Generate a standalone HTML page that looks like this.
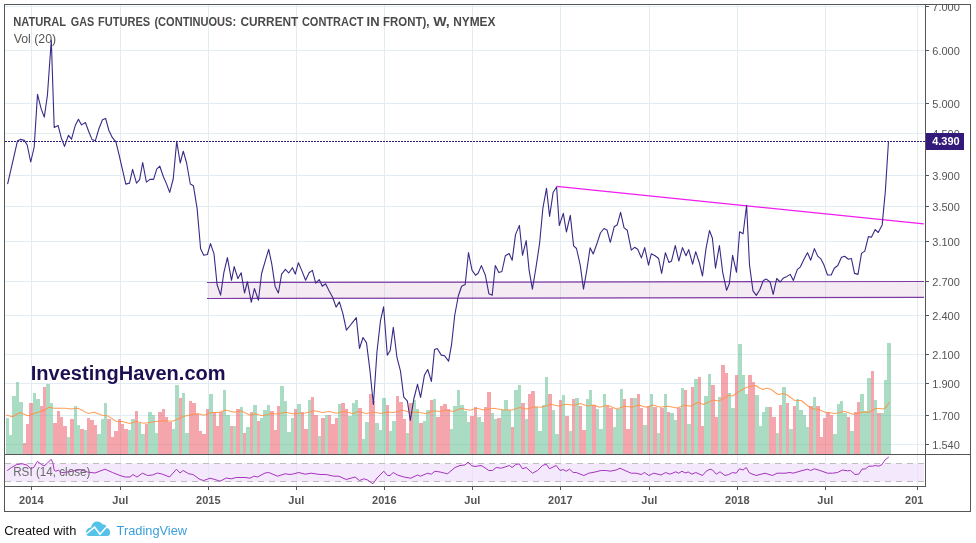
<!DOCTYPE html>
<html><head><meta charset="utf-8"><title>Natural Gas Futures</title>
<style>
html,body{margin:0;padding:0;background:#fff;}
body{width:976px;height:543px;overflow:hidden;font-family:"Liberation Sans",sans-serif;}
svg{display:block;}
</style></head><body>
<svg width="976" height="543" viewBox="0 0 976 543" font-family="Liberation Sans, sans-serif">
<rect x="0" y="0" width="976" height="543" fill="#fff"/>

<g shape-rendering="crispEdges" stroke="#e1ecf3" stroke-width="1">
<line x1="31.5" y1="5" x2="31.5" y2="454"/>
<line x1="31.5" y1="455" x2="31.5" y2="486" stroke="#e8eef8"/>
<line x1="120.5" y1="5" x2="120.5" y2="454"/>
<line x1="120.5" y1="455" x2="120.5" y2="486" stroke="#e8eef8"/>
<line x1="208.5" y1="5" x2="208.5" y2="454"/>
<line x1="208.5" y1="455" x2="208.5" y2="486" stroke="#e8eef8"/>
<line x1="296.5" y1="5" x2="296.5" y2="454"/>
<line x1="296.5" y1="455" x2="296.5" y2="486" stroke="#e8eef8"/>
<line x1="384.5" y1="5" x2="384.5" y2="454"/>
<line x1="384.5" y1="455" x2="384.5" y2="486" stroke="#e8eef8"/>
<line x1="472.5" y1="5" x2="472.5" y2="454"/>
<line x1="472.5" y1="455" x2="472.5" y2="486" stroke="#e8eef8"/>
<line x1="560.5" y1="5" x2="560.5" y2="454"/>
<line x1="560.5" y1="455" x2="560.5" y2="486" stroke="#e8eef8"/>
<line x1="649.5" y1="5" x2="649.5" y2="454"/>
<line x1="649.5" y1="455" x2="649.5" y2="486" stroke="#e8eef8"/>
<line x1="737.5" y1="5" x2="737.5" y2="454"/>
<line x1="737.5" y1="455" x2="737.5" y2="486" stroke="#e8eef8"/>
<line x1="825.5" y1="5" x2="825.5" y2="454"/>
<line x1="825.5" y1="455" x2="825.5" y2="486" stroke="#e8eef8"/>
<line x1="917.5" y1="5" x2="917.5" y2="454"/>
<line x1="917.5" y1="455" x2="917.5" y2="486" stroke="#e8eef8"/>
<line x1="5" y1="6.5" x2="924" y2="6.5"/>
<line x1="5" y1="50.5" x2="924" y2="50.5"/>
<line x1="5" y1="103.5" x2="924" y2="103.5"/>
<line x1="5" y1="133.5" x2="924" y2="133.5"/>
<line x1="5" y1="175.5" x2="924" y2="175.5"/>
<line x1="5" y1="206.5" x2="924" y2="206.5"/>
<line x1="5" y1="241.5" x2="924" y2="241.5"/>
<line x1="5" y1="281.5" x2="924" y2="281.5"/>
<line x1="5" y1="315.5" x2="924" y2="315.5"/>
<line x1="5" y1="354.5" x2="924" y2="354.5"/>
<line x1="5" y1="383.5" x2="924" y2="383.5"/>
<line x1="5" y1="415.5" x2="924" y2="415.5"/>
<line x1="5" y1="444.5" x2="924" y2="444.5"/>
</g>
<polygon points="207.5,282.5 924,281.5 924,297.4 207.5,298.5" fill="#c99bc4" fill-opacity="0.2"/>
<g stroke="#7d3aa3" stroke-width="1.2"><line x1="207" y1="282.5" x2="924" y2="281.5"/><line x1="207" y1="298.5" x2="924" y2="297.4"/></g>
<g shape-rendering="crispEdges">
<rect x="6" y="418" width="3" height="36" fill="#53b987" fill-opacity="0.5"/>
<rect x="9" y="435" width="3" height="19" fill="#53b987" fill-opacity="0.5"/>
<rect x="12" y="396" width="4" height="58" fill="#53b987" fill-opacity="0.5"/>
<rect x="16" y="382" width="3" height="72" fill="#53b987" fill-opacity="0.5"/>
<rect x="19" y="402" width="4" height="52" fill="#53b987" fill-opacity="0.5"/>
<rect x="23" y="443" width="3" height="11" fill="#eb4d5c" fill-opacity="0.5"/>
<rect x="26" y="424" width="3" height="30" fill="#eb4d5c" fill-opacity="0.5"/>
<rect x="29" y="403" width="4" height="51" fill="#eb4d5c" fill-opacity="0.5"/>
<rect x="33" y="393" width="3" height="61" fill="#53b987" fill-opacity="0.5"/>
<rect x="36" y="399" width="4" height="55" fill="#53b987" fill-opacity="0.5"/>
<rect x="40" y="406" width="3" height="48" fill="#eb4d5c" fill-opacity="0.5"/>
<rect x="43" y="387" width="3" height="67" fill="#eb4d5c" fill-opacity="0.5"/>
<rect x="46" y="384" width="4" height="70" fill="#53b987" fill-opacity="0.5"/>
<rect x="50" y="403" width="3" height="51" fill="#53b987" fill-opacity="0.5"/>
<rect x="53" y="423" width="4" height="31" fill="#eb4d5c" fill-opacity="0.5"/>
<rect x="57" y="411" width="3" height="43" fill="#eb4d5c" fill-opacity="0.5"/>
<rect x="60" y="417" width="3" height="37" fill="#eb4d5c" fill-opacity="0.5"/>
<rect x="63" y="426" width="4" height="28" fill="#eb4d5c" fill-opacity="0.5"/>
<rect x="67" y="437" width="3" height="17" fill="#53b987" fill-opacity="0.5"/>
<rect x="70" y="419" width="4" height="35" fill="#eb4d5c" fill-opacity="0.5"/>
<rect x="74" y="406" width="3" height="48" fill="#53b987" fill-opacity="0.5"/>
<rect x="77" y="425" width="3" height="29" fill="#53b987" fill-opacity="0.5"/>
<rect x="80" y="429" width="4" height="25" fill="#eb4d5c" fill-opacity="0.5"/>
<rect x="84" y="430" width="3" height="24" fill="#53b987" fill-opacity="0.5"/>
<rect x="87" y="418" width="3" height="36" fill="#eb4d5c" fill-opacity="0.5"/>
<rect x="90" y="420" width="4" height="34" fill="#eb4d5c" fill-opacity="0.5"/>
<rect x="94" y="425" width="3" height="29" fill="#eb4d5c" fill-opacity="0.5"/>
<rect x="97" y="434" width="4" height="20" fill="#53b987" fill-opacity="0.5"/>
<rect x="101" y="419" width="3" height="35" fill="#53b987" fill-opacity="0.5"/>
<rect x="104" y="403" width="3" height="51" fill="#53b987" fill-opacity="0.5"/>
<rect x="107" y="419" width="4" height="35" fill="#eb4d5c" fill-opacity="0.5"/>
<rect x="111" y="437" width="3" height="17" fill="#eb4d5c" fill-opacity="0.5"/>
<rect x="114" y="431" width="4" height="23" fill="#eb4d5c" fill-opacity="0.5"/>
<rect x="118" y="419" width="3" height="35" fill="#eb4d5c" fill-opacity="0.5"/>
<rect x="121" y="424" width="3" height="30" fill="#eb4d5c" fill-opacity="0.5"/>
<rect x="124" y="429" width="4" height="25" fill="#eb4d5c" fill-opacity="0.5"/>
<rect x="128" y="430" width="3" height="24" fill="#53b987" fill-opacity="0.5"/>
<rect x="131" y="419" width="4" height="35" fill="#53b987" fill-opacity="0.5"/>
<rect x="135" y="411" width="3" height="43" fill="#eb4d5c" fill-opacity="0.5"/>
<rect x="138" y="423" width="3" height="31" fill="#53b987" fill-opacity="0.5"/>
<rect x="141" y="434" width="4" height="20" fill="#53b987" fill-opacity="0.5"/>
<rect x="145" y="424" width="3" height="30" fill="#eb4d5c" fill-opacity="0.5"/>
<rect x="148" y="412" width="4" height="42" fill="#53b987" fill-opacity="0.5"/>
<rect x="152" y="415" width="3" height="39" fill="#53b987" fill-opacity="0.5"/>
<rect x="155" y="433" width="3" height="21" fill="#53b987" fill-opacity="0.5"/>
<rect x="158" y="412" width="4" height="42" fill="#eb4d5c" fill-opacity="0.5"/>
<rect x="162" y="409" width="3" height="45" fill="#eb4d5c" fill-opacity="0.5"/>
<rect x="165" y="417" width="3" height="37" fill="#eb4d5c" fill-opacity="0.5"/>
<rect x="168" y="422" width="4" height="32" fill="#eb4d5c" fill-opacity="0.5"/>
<rect x="172" y="429" width="3" height="25" fill="#53b987" fill-opacity="0.5"/>
<rect x="175" y="385" width="4" height="69" fill="#53b987" fill-opacity="0.5"/>
<rect x="179" y="398" width="3" height="56" fill="#eb4d5c" fill-opacity="0.5"/>
<rect x="182" y="393" width="3" height="61" fill="#53b987" fill-opacity="0.5"/>
<rect x="185" y="433" width="4" height="21" fill="#53b987" fill-opacity="0.5"/>
<rect x="189" y="401" width="3" height="53" fill="#eb4d5c" fill-opacity="0.5"/>
<rect x="192" y="403" width="4" height="51" fill="#eb4d5c" fill-opacity="0.5"/>
<rect x="196" y="414" width="3" height="40" fill="#eb4d5c" fill-opacity="0.5"/>
<rect x="199" y="431" width="3" height="23" fill="#eb4d5c" fill-opacity="0.5"/>
<rect x="202" y="434" width="4" height="20" fill="#eb4d5c" fill-opacity="0.5"/>
<rect x="206" y="409" width="3" height="45" fill="#eb4d5c" fill-opacity="0.5"/>
<rect x="209" y="394" width="4" height="60" fill="#53b987" fill-opacity="0.5"/>
<rect x="213" y="412" width="3" height="42" fill="#eb4d5c" fill-opacity="0.5"/>
<rect x="216" y="426" width="3" height="28" fill="#eb4d5c" fill-opacity="0.5"/>
<rect x="219" y="412" width="4" height="42" fill="#eb4d5c" fill-opacity="0.5"/>
<rect x="223" y="390" width="3" height="64" fill="#53b987" fill-opacity="0.5"/>
<rect x="226" y="415" width="4" height="39" fill="#53b987" fill-opacity="0.5"/>
<rect x="230" y="426" width="3" height="28" fill="#eb4d5c" fill-opacity="0.5"/>
<rect x="233" y="426" width="3" height="28" fill="#53b987" fill-opacity="0.5"/>
<rect x="236" y="409" width="4" height="45" fill="#eb4d5c" fill-opacity="0.5"/>
<rect x="240" y="407" width="3" height="47" fill="#53b987" fill-opacity="0.5"/>
<rect x="243" y="433" width="3" height="21" fill="#eb4d5c" fill-opacity="0.5"/>
<rect x="246" y="427" width="4" height="27" fill="#53b987" fill-opacity="0.5"/>
<rect x="250" y="412" width="3" height="42" fill="#eb4d5c" fill-opacity="0.5"/>
<rect x="253" y="405" width="4" height="49" fill="#53b987" fill-opacity="0.5"/>
<rect x="257" y="421" width="3" height="33" fill="#eb4d5c" fill-opacity="0.5"/>
<rect x="260" y="418" width="3" height="36" fill="#53b987" fill-opacity="0.5"/>
<rect x="263" y="410" width="4" height="44" fill="#53b987" fill-opacity="0.5"/>
<rect x="267" y="405" width="3" height="49" fill="#53b987" fill-opacity="0.5"/>
<rect x="270" y="411" width="4" height="43" fill="#eb4d5c" fill-opacity="0.5"/>
<rect x="274" y="430" width="3" height="24" fill="#eb4d5c" fill-opacity="0.5"/>
<rect x="277" y="406" width="3" height="48" fill="#eb4d5c" fill-opacity="0.5"/>
<rect x="280" y="386" width="4" height="68" fill="#53b987" fill-opacity="0.5"/>
<rect x="284" y="401" width="3" height="53" fill="#53b987" fill-opacity="0.5"/>
<rect x="287" y="432" width="4" height="22" fill="#53b987" fill-opacity="0.5"/>
<rect x="291" y="418" width="3" height="36" fill="#53b987" fill-opacity="0.5"/>
<rect x="294" y="409" width="3" height="45" fill="#eb4d5c" fill-opacity="0.5"/>
<rect x="297" y="404" width="4" height="50" fill="#53b987" fill-opacity="0.5"/>
<rect x="301" y="412" width="3" height="42" fill="#eb4d5c" fill-opacity="0.5"/>
<rect x="304" y="429" width="4" height="25" fill="#eb4d5c" fill-opacity="0.5"/>
<rect x="308" y="400" width="3" height="54" fill="#53b987" fill-opacity="0.5"/>
<rect x="311" y="397" width="3" height="57" fill="#eb4d5c" fill-opacity="0.5"/>
<rect x="314" y="415" width="4" height="39" fill="#eb4d5c" fill-opacity="0.5"/>
<rect x="318" y="436" width="3" height="18" fill="#53b987" fill-opacity="0.5"/>
<rect x="321" y="418" width="4" height="36" fill="#eb4d5c" fill-opacity="0.5"/>
<rect x="325" y="415" width="3" height="39" fill="#53b987" fill-opacity="0.5"/>
<rect x="328" y="415" width="3" height="39" fill="#eb4d5c" fill-opacity="0.5"/>
<rect x="331" y="424" width="4" height="30" fill="#eb4d5c" fill-opacity="0.5"/>
<rect x="335" y="418" width="3" height="36" fill="#eb4d5c" fill-opacity="0.5"/>
<rect x="338" y="404" width="3" height="50" fill="#53b987" fill-opacity="0.5"/>
<rect x="341" y="403" width="4" height="51" fill="#eb4d5c" fill-opacity="0.5"/>
<rect x="345" y="409" width="3" height="45" fill="#eb4d5c" fill-opacity="0.5"/>
<rect x="348" y="416" width="4" height="38" fill="#53b987" fill-opacity="0.5"/>
<rect x="352" y="403" width="3" height="51" fill="#53b987" fill-opacity="0.5"/>
<rect x="355" y="400" width="3" height="54" fill="#53b987" fill-opacity="0.5"/>
<rect x="358" y="408" width="4" height="46" fill="#eb4d5c" fill-opacity="0.5"/>
<rect x="362" y="439" width="3" height="15" fill="#53b987" fill-opacity="0.5"/>
<rect x="365" y="422" width="4" height="32" fill="#53b987" fill-opacity="0.5"/>
<rect x="369" y="394" width="3" height="60" fill="#eb4d5c" fill-opacity="0.5"/>
<rect x="372" y="401" width="3" height="53" fill="#eb4d5c" fill-opacity="0.5"/>
<rect x="375" y="423" width="4" height="31" fill="#53b987" fill-opacity="0.5"/>
<rect x="379" y="430" width="3" height="24" fill="#53b987" fill-opacity="0.5"/>
<rect x="382" y="398" width="4" height="56" fill="#53b987" fill-opacity="0.5"/>
<rect x="386" y="405" width="3" height="49" fill="#eb4d5c" fill-opacity="0.5"/>
<rect x="389" y="431" width="3" height="23" fill="#53b987" fill-opacity="0.5"/>
<rect x="392" y="421" width="4" height="33" fill="#53b987" fill-opacity="0.5"/>
<rect x="396" y="396" width="3" height="58" fill="#eb4d5c" fill-opacity="0.5"/>
<rect x="399" y="402" width="4" height="52" fill="#eb4d5c" fill-opacity="0.5"/>
<rect x="403" y="419" width="3" height="35" fill="#eb4d5c" fill-opacity="0.5"/>
<rect x="406" y="433" width="3" height="21" fill="#53b987" fill-opacity="0.5"/>
<rect x="409" y="403" width="4" height="51" fill="#eb4d5c" fill-opacity="0.5"/>
<rect x="413" y="400" width="3" height="54" fill="#53b987" fill-opacity="0.5"/>
<rect x="416" y="409" width="3" height="45" fill="#53b987" fill-opacity="0.5"/>
<rect x="419" y="423" width="4" height="31" fill="#eb4d5c" fill-opacity="0.5"/>
<rect x="423" y="421" width="3" height="33" fill="#53b987" fill-opacity="0.5"/>
<rect x="426" y="410" width="4" height="44" fill="#53b987" fill-opacity="0.5"/>
<rect x="430" y="400" width="3" height="54" fill="#eb4d5c" fill-opacity="0.5"/>
<rect x="433" y="399" width="3" height="55" fill="#53b987" fill-opacity="0.5"/>
<rect x="436" y="417" width="4" height="37" fill="#eb4d5c" fill-opacity="0.5"/>
<rect x="440" y="406" width="3" height="48" fill="#eb4d5c" fill-opacity="0.5"/>
<rect x="443" y="404" width="4" height="50" fill="#eb4d5c" fill-opacity="0.5"/>
<rect x="447" y="409" width="3" height="45" fill="#eb4d5c" fill-opacity="0.5"/>
<rect x="450" y="429" width="3" height="25" fill="#53b987" fill-opacity="0.5"/>
<rect x="453" y="406" width="4" height="48" fill="#53b987" fill-opacity="0.5"/>
<rect x="457" y="390" width="3" height="64" fill="#53b987" fill-opacity="0.5"/>
<rect x="460" y="405" width="4" height="49" fill="#53b987" fill-opacity="0.5"/>
<rect x="464" y="411" width="3" height="43" fill="#53b987" fill-opacity="0.5"/>
<rect x="467" y="422" width="3" height="32" fill="#53b987" fill-opacity="0.5"/>
<rect x="470" y="416" width="4" height="38" fill="#eb4d5c" fill-opacity="0.5"/>
<rect x="474" y="407" width="3" height="47" fill="#eb4d5c" fill-opacity="0.5"/>
<rect x="477" y="417" width="4" height="37" fill="#53b987" fill-opacity="0.5"/>
<rect x="481" y="422" width="3" height="32" fill="#53b987" fill-opacity="0.5"/>
<rect x="484" y="407" width="3" height="47" fill="#eb4d5c" fill-opacity="0.5"/>
<rect x="487" y="392" width="4" height="62" fill="#eb4d5c" fill-opacity="0.5"/>
<rect x="491" y="413" width="3" height="41" fill="#53b987" fill-opacity="0.5"/>
<rect x="494" y="419" width="3" height="35" fill="#53b987" fill-opacity="0.5"/>
<rect x="497" y="418" width="4" height="36" fill="#eb4d5c" fill-opacity="0.5"/>
<rect x="501" y="410" width="3" height="44" fill="#53b987" fill-opacity="0.5"/>
<rect x="504" y="400" width="4" height="54" fill="#53b987" fill-opacity="0.5"/>
<rect x="508" y="410" width="3" height="44" fill="#53b987" fill-opacity="0.5"/>
<rect x="511" y="427" width="3" height="27" fill="#eb4d5c" fill-opacity="0.5"/>
<rect x="514" y="390" width="4" height="64" fill="#53b987" fill-opacity="0.5"/>
<rect x="518" y="385" width="3" height="69" fill="#53b987" fill-opacity="0.5"/>
<rect x="521" y="403" width="4" height="51" fill="#eb4d5c" fill-opacity="0.5"/>
<rect x="525" y="419" width="3" height="35" fill="#53b987" fill-opacity="0.5"/>
<rect x="528" y="394" width="3" height="60" fill="#eb4d5c" fill-opacity="0.5"/>
<rect x="531" y="391" width="4" height="63" fill="#eb4d5c" fill-opacity="0.5"/>
<rect x="535" y="407" width="3" height="47" fill="#53b987" fill-opacity="0.5"/>
<rect x="538" y="431" width="4" height="23" fill="#53b987" fill-opacity="0.5"/>
<rect x="542" y="405" width="3" height="49" fill="#53b987" fill-opacity="0.5"/>
<rect x="545" y="377" width="3" height="77" fill="#53b987" fill-opacity="0.5"/>
<rect x="548" y="394" width="4" height="60" fill="#eb4d5c" fill-opacity="0.5"/>
<rect x="552" y="410" width="3" height="44" fill="#53b987" fill-opacity="0.5"/>
<rect x="555" y="434" width="4" height="20" fill="#53b987" fill-opacity="0.5"/>
<rect x="559" y="400" width="3" height="54" fill="#eb4d5c" fill-opacity="0.5"/>
<rect x="562" y="395" width="3" height="59" fill="#53b987" fill-opacity="0.5"/>
<rect x="565" y="416" width="4" height="38" fill="#eb4d5c" fill-opacity="0.5"/>
<rect x="569" y="431" width="3" height="23" fill="#53b987" fill-opacity="0.5"/>
<rect x="572" y="399" width="3" height="55" fill="#eb4d5c" fill-opacity="0.5"/>
<rect x="575" y="398" width="4" height="56" fill="#53b987" fill-opacity="0.5"/>
<rect x="579" y="406" width="3" height="48" fill="#eb4d5c" fill-opacity="0.5"/>
<rect x="582" y="430" width="4" height="24" fill="#eb4d5c" fill-opacity="0.5"/>
<rect x="586" y="399" width="3" height="55" fill="#53b987" fill-opacity="0.5"/>
<rect x="589" y="390" width="3" height="64" fill="#53b987" fill-opacity="0.5"/>
<rect x="592" y="405" width="4" height="49" fill="#eb4d5c" fill-opacity="0.5"/>
<rect x="596" y="409" width="3" height="45" fill="#53b987" fill-opacity="0.5"/>
<rect x="599" y="429" width="4" height="25" fill="#53b987" fill-opacity="0.5"/>
<rect x="603" y="394" width="3" height="60" fill="#53b987" fill-opacity="0.5"/>
<rect x="606" y="406" width="3" height="48" fill="#eb4d5c" fill-opacity="0.5"/>
<rect x="609" y="408" width="4" height="46" fill="#eb4d5c" fill-opacity="0.5"/>
<rect x="613" y="427" width="3" height="27" fill="#53b987" fill-opacity="0.5"/>
<rect x="616" y="409" width="4" height="45" fill="#53b987" fill-opacity="0.5"/>
<rect x="620" y="389" width="3" height="65" fill="#53b987" fill-opacity="0.5"/>
<rect x="623" y="399" width="3" height="55" fill="#eb4d5c" fill-opacity="0.5"/>
<rect x="626" y="429" width="4" height="25" fill="#eb4d5c" fill-opacity="0.5"/>
<rect x="630" y="398" width="3" height="56" fill="#eb4d5c" fill-opacity="0.5"/>
<rect x="633" y="398" width="4" height="56" fill="#53b987" fill-opacity="0.5"/>
<rect x="637" y="394" width="3" height="60" fill="#eb4d5c" fill-opacity="0.5"/>
<rect x="640" y="408" width="3" height="46" fill="#eb4d5c" fill-opacity="0.5"/>
<rect x="643" y="425" width="4" height="29" fill="#53b987" fill-opacity="0.5"/>
<rect x="647" y="406" width="3" height="48" fill="#eb4d5c" fill-opacity="0.5"/>
<rect x="650" y="394" width="3" height="60" fill="#53b987" fill-opacity="0.5"/>
<rect x="653" y="407" width="4" height="47" fill="#eb4d5c" fill-opacity="0.5"/>
<rect x="657" y="433" width="3" height="21" fill="#53b987" fill-opacity="0.5"/>
<rect x="660" y="408" width="4" height="46" fill="#eb4d5c" fill-opacity="0.5"/>
<rect x="664" y="394" width="3" height="60" fill="#53b987" fill-opacity="0.5"/>
<rect x="667" y="412" width="3" height="42" fill="#eb4d5c" fill-opacity="0.5"/>
<rect x="670" y="413" width="4" height="41" fill="#53b987" fill-opacity="0.5"/>
<rect x="674" y="420" width="3" height="34" fill="#53b987" fill-opacity="0.5"/>
<rect x="677" y="408" width="4" height="46" fill="#eb4d5c" fill-opacity="0.5"/>
<rect x="681" y="388" width="3" height="66" fill="#53b987" fill-opacity="0.5"/>
<rect x="684" y="390" width="3" height="64" fill="#eb4d5c" fill-opacity="0.5"/>
<rect x="687" y="424" width="4" height="30" fill="#53b987" fill-opacity="0.5"/>
<rect x="691" y="387" width="3" height="67" fill="#eb4d5c" fill-opacity="0.5"/>
<rect x="694" y="379" width="4" height="75" fill="#53b987" fill-opacity="0.5"/>
<rect x="698" y="377" width="3" height="77" fill="#eb4d5c" fill-opacity="0.5"/>
<rect x="701" y="426" width="3" height="28" fill="#eb4d5c" fill-opacity="0.5"/>
<rect x="704" y="396" width="4" height="58" fill="#53b987" fill-opacity="0.5"/>
<rect x="708" y="374" width="3" height="80" fill="#53b987" fill-opacity="0.5"/>
<rect x="711" y="385" width="4" height="69" fill="#eb4d5c" fill-opacity="0.5"/>
<rect x="715" y="417" width="3" height="37" fill="#eb4d5c" fill-opacity="0.5"/>
<rect x="718" y="397" width="3" height="57" fill="#53b987" fill-opacity="0.5"/>
<rect x="721" y="365" width="4" height="89" fill="#eb4d5c" fill-opacity="0.5"/>
<rect x="725" y="373" width="3" height="81" fill="#eb4d5c" fill-opacity="0.5"/>
<rect x="728" y="393" width="3" height="61" fill="#53b987" fill-opacity="0.5"/>
<rect x="731" y="408" width="4" height="46" fill="#53b987" fill-opacity="0.5"/>
<rect x="735" y="375" width="3" height="79" fill="#eb4d5c" fill-opacity="0.5"/>
<rect x="738" y="344" width="4" height="110" fill="#53b987" fill-opacity="0.5"/>
<rect x="742" y="375" width="3" height="79" fill="#53b987" fill-opacity="0.5"/>
<rect x="745" y="394" width="3" height="60" fill="#53b987" fill-opacity="0.5"/>
<rect x="748" y="375" width="4" height="79" fill="#eb4d5c" fill-opacity="0.5"/>
<rect x="752" y="382" width="3" height="72" fill="#eb4d5c" fill-opacity="0.5"/>
<rect x="755" y="395" width="4" height="59" fill="#53b987" fill-opacity="0.5"/>
<rect x="759" y="426" width="3" height="28" fill="#53b987" fill-opacity="0.5"/>
<rect x="762" y="412" width="3" height="42" fill="#53b987" fill-opacity="0.5"/>
<rect x="765" y="407" width="4" height="47" fill="#53b987" fill-opacity="0.5"/>
<rect x="769" y="407" width="3" height="47" fill="#eb4d5c" fill-opacity="0.5"/>
<rect x="772" y="417" width="4" height="37" fill="#eb4d5c" fill-opacity="0.5"/>
<rect x="776" y="433" width="3" height="21" fill="#53b987" fill-opacity="0.5"/>
<rect x="779" y="405" width="3" height="49" fill="#eb4d5c" fill-opacity="0.5"/>
<rect x="782" y="387" width="4" height="67" fill="#53b987" fill-opacity="0.5"/>
<rect x="786" y="403" width="3" height="51" fill="#eb4d5c" fill-opacity="0.5"/>
<rect x="789" y="429" width="4" height="25" fill="#53b987" fill-opacity="0.5"/>
<rect x="793" y="406" width="3" height="48" fill="#eb4d5c" fill-opacity="0.5"/>
<rect x="796" y="399" width="3" height="55" fill="#53b987" fill-opacity="0.5"/>
<rect x="799" y="410" width="4" height="44" fill="#53b987" fill-opacity="0.5"/>
<rect x="803" y="415" width="3" height="39" fill="#53b987" fill-opacity="0.5"/>
<rect x="806" y="427" width="3" height="27" fill="#53b987" fill-opacity="0.5"/>
<rect x="809" y="406" width="4" height="48" fill="#eb4d5c" fill-opacity="0.5"/>
<rect x="813" y="397" width="3" height="57" fill="#53b987" fill-opacity="0.5"/>
<rect x="816" y="406" width="4" height="48" fill="#eb4d5c" fill-opacity="0.5"/>
<rect x="820" y="437" width="3" height="17" fill="#eb4d5c" fill-opacity="0.5"/>
<rect x="823" y="418" width="3" height="36" fill="#eb4d5c" fill-opacity="0.5"/>
<rect x="826" y="412" width="4" height="42" fill="#eb4d5c" fill-opacity="0.5"/>
<rect x="830" y="415" width="3" height="39" fill="#eb4d5c" fill-opacity="0.5"/>
<rect x="833" y="434" width="4" height="20" fill="#53b987" fill-opacity="0.5"/>
<rect x="837" y="404" width="3" height="50" fill="#53b987" fill-opacity="0.5"/>
<rect x="840" y="401" width="3" height="53" fill="#53b987" fill-opacity="0.5"/>
<rect x="843" y="413" width="4" height="41" fill="#53b987" fill-opacity="0.5"/>
<rect x="847" y="417" width="3" height="37" fill="#eb4d5c" fill-opacity="0.5"/>
<rect x="850" y="431" width="4" height="23" fill="#53b987" fill-opacity="0.5"/>
<rect x="854" y="412" width="3" height="42" fill="#eb4d5c" fill-opacity="0.5"/>
<rect x="857" y="402" width="3" height="52" fill="#eb4d5c" fill-opacity="0.5"/>
<rect x="860" y="394" width="4" height="60" fill="#53b987" fill-opacity="0.5"/>
<rect x="864" y="411" width="3" height="43" fill="#53b987" fill-opacity="0.5"/>
<rect x="867" y="378" width="4" height="76" fill="#53b987" fill-opacity="0.5"/>
<rect x="871" y="371" width="3" height="83" fill="#eb4d5c" fill-opacity="0.5"/>
<rect x="874" y="400" width="3" height="54" fill="#53b987" fill-opacity="0.5"/>
<rect x="877" y="413" width="4" height="41" fill="#eb4d5c" fill-opacity="0.5"/>
<rect x="881" y="413" width="3" height="41" fill="#53b987" fill-opacity="0.5"/>
<rect x="884" y="380" width="3" height="74" fill="#53b987" fill-opacity="0.5"/>
<rect x="887" y="343" width="4" height="111" fill="#53b987" fill-opacity="0.5"/>
</g>
<polyline fill="none" stroke="#ff8f3f" stroke-opacity="0.85" stroke-width="1.05" stroke-linejoin="round" points="6.2,415.0 12.4,416.8 20.1,412.5 27.8,415.8 37.1,412.5 43.3,410.7 48.7,407.3 54.1,408.3 64.9,408.3 71.1,409.1 78.1,408.3 88.1,413.4 94.3,412.2 102.1,415.3 108.2,416.1 116.0,421.2 122.2,421.5 129.9,423.5 136.1,421.5 143.8,423.3 148.0,422.7 155.7,421.5 163.5,420.7 172.7,421.2 178.9,418.4 185.1,416.1 197.5,413.4 203.7,415.3 211.4,412.5 219.1,412.5 225.3,409.9 234.6,412.2 240.8,410.7 250.1,415.3 254.7,413.8 262.4,415.8 271.7,413.4 277.9,414.1 285.6,412.2 293.4,414.1 298.0,413.3 305.3,413.0 314.6,410.7 322.3,412.5 329.2,411.4 336.2,413.2 343.9,411.4 353.2,413.4 357.9,411.4 366.4,413.4 373.3,411.9 381.0,413.4 387.2,411.9 393.4,412.5 402.7,410.3 410.4,412.5 418.2,411.9 425.9,413.7 433.6,410.7 439.8,411.4 446.0,409.9 453.3,411.4 461.0,408.6 470.3,410.3 476.5,408.3 484.2,409.9 493.5,408.3 504.3,409.9 512.0,409.9 519.8,407.6 526.0,409.1 535.2,406.8 541.4,407.3 550.7,404.2 558.4,406.0 566.2,404.2 573.9,405.2 580.1,403.4 587.8,406.0 594.0,404.9 599.7,407.3 607.5,405.2 616.7,409.1 624.5,406.3 632.2,407.3 638.4,404.9 646.1,407.3 653.1,404.9 660.0,407.3 667.8,406.3 677.0,408.0 684.8,405.2 691.0,406.3 697.9,402.2 703.3,404.5 712.6,400.1 718.8,401.1 728.9,395.2 732.7,396.0 738.0,392.1 740.0,391.0 746.0,387.5 751.0,386.3 755.7,385.5 758.6,387.5 762.9,389.5 766.6,388.2 770.9,389.2 774.5,392.0 778.4,394.8 782.1,393.5 786.4,394.5 790.7,397.5 794.2,400.2 797.9,400.5 801.4,400.5 806.0,404.5 810.0,407.5 814.4,409.0 818.8,409.2 822.5,411.3 826.0,412.5 830.0,412.8 835.0,413.5 840.0,412.5 844.3,411.3 848.4,412.7 853.0,414.3 857.3,413.2 861.4,412.5 865.5,411.8 869.0,412.4 873.0,410.0 876.2,408.5 880.0,408.5 883.0,409.0 886.0,407.5 889.2,402.3"/>
<line x1="5" y1="141.5" x2="926" y2="141.5" stroke="#2f1d78" stroke-width="1" stroke-dasharray="2,1" shape-rendering="crispEdges"/>
<line x1="556.6" y1="186.3" x2="923.8" y2="223.9" stroke="#f01cf0" stroke-width="1.2"/>
<polyline fill="none" stroke="#3a2a86" stroke-width="1.1" stroke-linejoin="round" points="7.6,184.1 17.5,140.8 20.6,139.4 24.3,140.4 27.2,145.0 30.7,162.0 34.2,147.0 37.5,94.4 41.2,108.9 44.3,117.1 47.4,95.5 51.3,40.0 54.2,127.4 58.1,125.4 61.2,137.7 64.5,146.4 68.5,135.3 71.5,139.2 75.3,125.4 78.4,119.2 81.6,124.9 85.4,122.5 88.7,131.5 92.0,139.4 95.3,140.8 99.0,128.5 102.5,119.8 105.6,118.4 108.9,130.5 112.4,137.7 115.9,141.9 119.2,155.3 122.7,170.7 125.8,184.1 129.5,183.1 132.6,169.3 136.5,183.1 139.6,179.6 142.7,162.5 146.4,182.1 149.9,179.4 153.6,179.4 156.7,169.1 159.8,166.2 163.3,176.5 166.6,184.1 169.7,192.4 173.2,179.0 176.7,141.4 180.2,163.0 183.3,151.2 186.6,163.0 190.3,184.0 193.4,185.7 197.1,208.4 198.8,228.0 200.6,248.7 203.7,255.3 207.4,254.5 210.5,243.6 214.0,253.9 217.1,284.8 220.6,295.1 223.9,272.4 227.4,257.6 231.5,280.3 234.2,266.6 237.9,278.6 241.2,272.8 244.5,293.0 247.4,281.7 251.3,302.3 254.4,288.5 258.4,300.3 261.6,273.5 265.2,261.1 268.7,249.3 271.8,264.2 275.1,286.4 278.4,293.0 281.6,274.1 285.4,269.3 288.7,273.0 292.4,267.7 295.3,274.1 298.4,262.7 302.1,271.4 305.6,280.3 309.1,272.8 312.4,270.4 315.7,283.1 319.2,279.6 322.3,286.2 325.6,283.8 328.9,290.6 332.6,297.2 336.1,307.1 339.4,301.9 342.9,313.7 346.4,330.2 349.7,326.0 353.0,321.8 356.3,317.6 359.5,348.5 363.0,337.5 366.5,342.9 369.8,369.1 373.4,404.5 377.0,351.5 380.5,320.6 383.6,306.8 387.3,355.3 390.2,350.5 393.3,327.4 397.0,357.7 400.5,371.1 403.8,397.2 407.4,401.1 410.3,420.5 413.8,399.0 417.5,384.3 420.6,397.4 424.4,375.3 427.7,369.5 431.4,381.4 434.5,349.5 437.2,348.5 441.3,355.1 444.4,355.7 448.6,361.2 451.6,344.3 454.7,315.5 458.3,296.0 461.6,286.2 465.2,284.5 468.5,252.6 472.0,270.1 475.5,275.3 478.1,273.2 481.4,265.6 485.4,275.3 488.9,293.8 492.2,295.3 495.3,265.6 498.8,272.6 501.9,271.5 505.4,255.7 509.1,253.6 512.2,260.2 515.5,234.6 519.4,225.4 522.5,255.3 526.2,240.6 529.1,270.1 532.4,289.1 535.9,268.0 539.6,243.3 542.9,208.1 546.5,188.4 549.6,216.4 553.2,192.2 556.6,187.0 559.3,225.5 563.3,213.3 566.4,232.0 570.3,215.4 573.6,245.8 576.5,248.5 580.2,264.9 583.5,289.1 586.8,270.1 590.1,247.8 593.2,254.0 596.7,244.3 600.4,233.0 603.9,228.5 607.0,229.9 610.3,242.3 614.2,226.8 617.3,224.7 620.6,212.4 624.1,227.9 627.3,230.3 631.3,250.2 634.6,247.3 637.7,249.2 641.4,257.9 644.7,247.6 648.5,265.1 651.3,253.8 655.1,255.8 658.6,258.5 661.6,273.4 665.4,252.7 668.9,262.4 671.5,261.0 675.3,245.5 678.8,261.0 682.5,247.6 686.0,255.8 688.7,249.6 692.6,264.1 695.7,251.7 699.4,263.0 702.5,276.0 706.0,248.6 709.5,230.5 712.4,238.3 715.5,268.2 719.4,245.5 722.7,272.3 726.6,290.3 729.3,283.7 732.6,255.4 736.5,272.3 739.6,231.7 743.1,233.8 746.6,205.3 749.5,265.1 753.0,290.9 756.3,295.4 759.8,289.8 763.3,280.6 766.4,279.1 770.1,282.0 773.2,294.4 776.7,278.5 780.2,282.0 783.5,277.9 787.0,276.4 790.3,274.4 793.4,280.4 797.3,269.6 800.4,266.8 804.1,258.9 807.5,252.7 810.7,260.2 814.4,248.6 817.7,256.1 820.9,258.9 824.0,265.1 827.5,275.0 831.2,275.0 834.3,268.2 837.8,265.5 841.5,257.3 844.6,256.2 848.4,259.3 851.4,258.5 854.5,273.4 858.0,274.4 861.5,253.4 864.8,251.1 868.4,236.6 871.4,237.3 875.2,229.6 878.2,232.5 882.2,224.9 883.8,207.4 885.3,192.0 888.5,141.3"/>
<rect x="5" y="463.5" width="919" height="18" fill="#f4e8fc"/>
<g shape-rendering="crispEdges" stroke="#bdbdbd" stroke-width="1" stroke-dasharray="6,5"><line x1="5" y1="463.5" x2="924" y2="463.5"/><line x1="5" y1="481.5" x2="924" y2="481.5"/></g>
<g shape-rendering="crispEdges" stroke="#e3e4f6" stroke-width="1">
<line x1="31.5" y1="464" x2="31.5" y2="481"/>
<line x1="120.5" y1="464" x2="120.5" y2="481"/>
<line x1="208.5" y1="464" x2="208.5" y2="481"/>
<line x1="296.5" y1="464" x2="296.5" y2="481"/>
<line x1="384.5" y1="464" x2="384.5" y2="481"/>
<line x1="472.5" y1="464" x2="472.5" y2="481"/>
<line x1="560.5" y1="464" x2="560.5" y2="481"/>
<line x1="649.5" y1="464" x2="649.5" y2="481"/>
<line x1="737.5" y1="464" x2="737.5" y2="481"/>
<line x1="825.5" y1="464" x2="825.5" y2="481"/>
<line x1="917.5" y1="464" x2="917.5" y2="481"/>
</g>
<polyline fill="none" stroke="#a634bf" stroke-width="1.0" stroke-linejoin="round" points="7.2,470.6 11.5,467.5 16.4,464.7 22.0,463.7 27.2,465.2 30.7,468.8 33.8,467.3 37.4,461.4 40.5,463.7 44.0,466.0 47.5,463.0 51.2,459.3 52.8,462.7 54.3,470.4 55.8,471.2 58.4,470.2 61.5,472.6 66.0,472.2 72.5,471.2 80.0,469.5 87.5,472.0 95.0,473.0 105.0,469.2 112.5,472.5 120.0,475.5 125.0,477.0 130.0,477.0 133.0,474.5 137.0,477.0 142.5,473.2 147.5,475.5 152.5,475.0 157.5,473.0 162.5,474.2 169.5,477.0 176.5,469.2 180.0,473.0 183.2,470.5 188.8,473.8 193.0,474.5 200.0,479.5 203.8,480.5 210.0,478.2 215.0,479.5 220.0,481.2 226.2,478.0 231.2,478.8 236.2,477.5 245.0,477.5 250.0,478.2 253.8,476.2 257.5,477.0 265.0,473.0 268.8,472.5 277.5,476.2 285.0,473.8 290.0,474.5 293.8,473.8 298.8,472.5 305.0,474.2 311.2,473.2 320.0,474.5 326.2,474.5 333.8,476.2 338.8,476.2 346.2,479.5 355.0,477.0 359.5,480.5 363.8,478.8 367.5,480.0 373.0,483.8 377.0,478.0 383.8,471.2 387.5,475.5 390.0,475.5 393.2,472.5 397.5,475.0 403.8,477.0 410.8,478.2 417.5,475.0 420.5,476.2 427.5,473.2 431.2,474.2 435.0,471.2 440.0,472.0 447.5,473.8 455.0,467.5 460.0,465.5 465.0,465.0 468.2,462.0 471.2,465.5 475.0,466.5 481.0,465.5 483.8,467.0 488.8,470.5 492.5,470.5 496.2,467.5 501.2,468.2 505.0,467.0 509.5,465.5 512.0,467.5 515.8,464.5 519.2,463.8 522.5,468.8 526.2,467.5 532.5,473.2 537.5,470.5 542.5,465.5 546.2,464.2 549.5,468.8 553.0,467.0 556.2,465.5 560.0,470.5 563.2,469.5 566.2,471.2 569.5,469.2 573.2,472.5 576.2,472.5 583.8,475.5 588.8,473.2 595.0,472.0 601.2,470.5 606.2,470.5 610.0,471.2 616.2,470.0 620.0,468.2 625.0,470.5 631.2,473.2 636.2,473.2 641.2,474.5 644.5,472.5 648.8,475.5 653.8,473.2 661.2,475.0 665.5,472.5 670.0,474.2 675.8,471.8 678.8,473.2 682.0,471.2 685.0,473.0 688.2,472.0 692.0,474.2 695.8,472.5 702.5,475.5 706.2,471.2 710.0,469.2 712.5,470.0 716.2,474.2 720.0,471.8 725.0,475.5 728.8,474.5 732.5,472.5 736.2,473.2 739.5,468.8 743.0,470.0 746.2,467.5 749.5,473.0 756.2,475.5 765.0,473.2 772.5,475.5 777.0,473.2 785.0,473.2 790.0,472.5 793.0,473.2 800.0,471.2 807.5,469.2 810.5,470.5 814.5,468.8 820.0,470.5 827.5,473.2 832.5,473.2 837.5,472.5 842.5,470.0 847.5,470.8 850.5,470.5 855.0,474.5 858.8,474.2 862.0,469.2 865.5,468.8 868.8,466.2 872.5,466.2 875.5,465.5 878.8,466.2 882.0,464.5 885.0,460.0 888.8,457.0"/>
<g shape-rendering="crispEdges" stroke="#555" stroke-width="1" fill="none">
<rect x="4.5" y="4.5" width="966" height="507"/>
<line x1="5" y1="454.5" x2="970" y2="454.5"/>
<line x1="5" y1="486.5" x2="926" y2="486.5"/>
<line x1="925.5" y1="5" x2="925.5" y2="487"/>
<line x1="926" y1="6.5" x2="929" y2="6.5"/>
<line x1="926" y1="50.5" x2="929" y2="50.5"/>
<line x1="926" y1="103.5" x2="929" y2="103.5"/>
<line x1="926" y1="133.5" x2="929" y2="133.5"/>
<line x1="926" y1="175.5" x2="929" y2="175.5"/>
<line x1="926" y1="206.5" x2="929" y2="206.5"/>
<line x1="926" y1="241.5" x2="929" y2="241.5"/>
<line x1="926" y1="281.5" x2="929" y2="281.5"/>
<line x1="926" y1="315.5" x2="929" y2="315.5"/>
<line x1="926" y1="354.5" x2="929" y2="354.5"/>
<line x1="926" y1="383.5" x2="929" y2="383.5"/>
<line x1="926" y1="415.5" x2="929" y2="415.5"/>
<line x1="926" y1="444.5" x2="929" y2="444.5"/>
<line x1="31.5" y1="487" x2="31.5" y2="490"/>
<line x1="120.5" y1="487" x2="120.5" y2="490"/>
<line x1="208.5" y1="487" x2="208.5" y2="490"/>
<line x1="296.5" y1="487" x2="296.5" y2="490"/>
<line x1="384.5" y1="487" x2="384.5" y2="490"/>
<line x1="472.5" y1="487" x2="472.5" y2="490"/>
<line x1="560.5" y1="487" x2="560.5" y2="490"/>
<line x1="649.5" y1="487" x2="649.5" y2="490"/>
<line x1="737.5" y1="487" x2="737.5" y2="490"/>
<line x1="825.5" y1="487" x2="825.5" y2="490"/>
<line x1="917.5" y1="487" x2="917.5" y2="490"/>
</g>
<defs><clipPath id="ca"><rect x="926" y="5" width="44" height="449"/></clipPath><clipPath id="ct"><rect x="5" y="487" width="919" height="24"/></clipPath></defs>
<g font-size="11" fill="#555" clip-path="url(#ca)">
<text x="932.3" y="10.5">7.000</text>
<text x="932.3" y="54.5">6.000</text>
<text x="932.3" y="107.5">5.000</text>
<text x="932.3" y="137.5">4.500</text>
<text x="932.3" y="179.5">3.900</text>
<text x="932.3" y="210.5">3.500</text>
<text x="932.3" y="245.5">3.100</text>
<text x="932.3" y="285.5">2.700</text>
<text x="932.3" y="319.5">2.400</text>
<text x="932.3" y="358.5">2.100</text>
<text x="932.3" y="387.5">1.900</text>
<text x="932.3" y="419.5">1.700</text>
<text x="932.3" y="448.5">1.540</text>
</g>
<rect x="926" y="133" width="38" height="17" fill="#33197a" shape-rendering="crispEdges"/>
<text x="932.2" y="145" font-size="11" font-weight="bold" fill="#fff">4.390</text>
<g font-size="11" font-weight="bold" fill="#555" text-anchor="middle" clip-path="url(#ct)">
<text x="31.3" y="504">2014</text>
<text x="120.3" y="504">Jul</text>
<text x="208.3" y="504">2015</text>
<text x="296.3" y="504">Jul</text>
<text x="384.3" y="504">2016</text>
<text x="472.3" y="504">Jul</text>
<text x="560.3" y="504">2017</text>
<text x="649.3" y="504">Jul</text>
<text x="737.3" y="504">2018</text>
<text x="825.3" y="504">Jul</text>
<text x="917.3" y="504">2019</text>
</g>
<g font-size="12" font-weight="bold" fill="#4a4a4a">
<text x="13.2" y="25.8" textLength="52.9" lengthAdjust="spacingAndGlyphs">NATURAL</text>
<text x="70.8" y="25.8" textLength="23.4" lengthAdjust="spacingAndGlyphs">GAS</text>
<text x="98.0" y="25.8" textLength="52.1" lengthAdjust="spacingAndGlyphs">FUTURES</text>
<text x="154.4" y="25.8" textLength="81.7" lengthAdjust="spacingAndGlyphs">(CONTINUOUS:</text>
<text x="240.5" y="25.8" textLength="57.8" lengthAdjust="spacingAndGlyphs">CURRENT</text>
<text x="301.9" y="25.8" textLength="61.7" lengthAdjust="spacingAndGlyphs">CONTRACT</text>
<text x="366.6" y="25.8" textLength="13.0" lengthAdjust="spacingAndGlyphs">IN</text>
<text x="383.1" y="25.8" textLength="46.3" lengthAdjust="spacingAndGlyphs">FRONT),</text>
<text x="433.2" y="25.8" textLength="16.5" lengthAdjust="spacingAndGlyphs">W,</text>
<text x="453.2" y="25.8" textLength="42.3" lengthAdjust="spacingAndGlyphs">NYMEX</text>
</g>
<text x="13.7" y="43" font-size="12" fill="#555" textLength="42.5" lengthAdjust="spacingAndGlyphs">Vol (20)</text>
<text x="13.2" y="475.6" font-size="12" fill="#6a6a6a" textLength="77.2" lengthAdjust="spacingAndGlyphs">RSI (14, close)</text>
<text x="30.8" y="380" font-size="20" font-weight="bold" fill="#1e0f52" textLength="194.8" lengthAdjust="spacingAndGlyphs">InvestingHaven.com</text>
<text x="4.3" y="535" font-size="12.5" fill="#111" textLength="72" lengthAdjust="spacingAndGlyphs">Created with</text>
<g><path d="M88.5 536 C86.6 536 85.9 534.2 86 532.6 C86.1 529.6 88.5 527.3 91.3 527.5 C91.6 524 94 521.5 97 521.5 C99.8 521.5 101.8 522.9 102.8 524.6 C104.4 524.1 106.1 524.9 106.6 526.4 L107.2 528 C109 528.7 110.2 530.4 110.1 532.4 C110 534.6 109 536 107.3 536 Z" fill="#55c2e7"/><polyline points="86,534 94.6,527.1 99.9,534.3 107.2,526.2" fill="none" stroke="#fff" stroke-width="1.6" stroke-linejoin="miter"/></g>
<text x="116.6" y="535" font-size="12.5" fill="#3a9fd9" textLength="70.5" lengthAdjust="spacingAndGlyphs">TradingView</text>
</svg></body></html>
